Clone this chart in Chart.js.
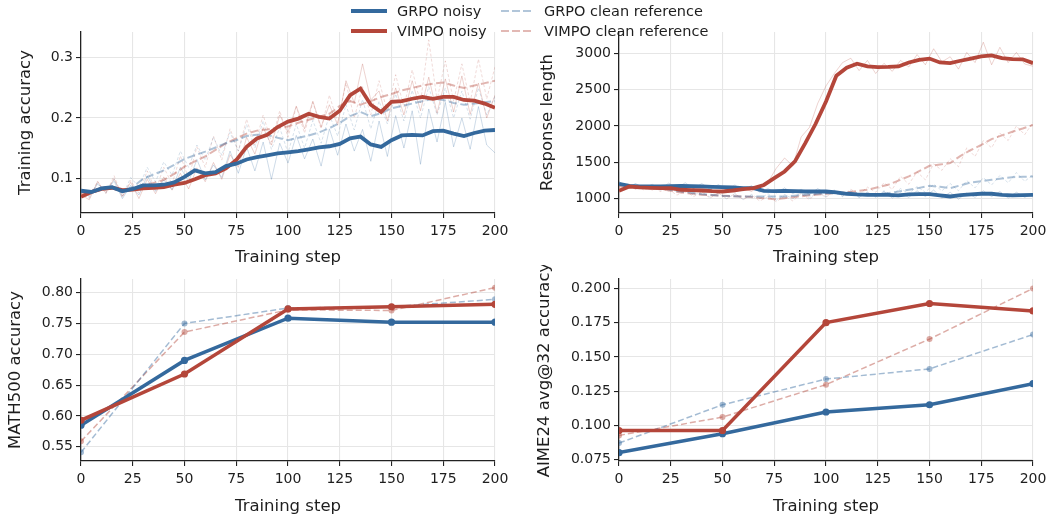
<!DOCTYPE html>
<html>
<head>
<meta charset="utf-8">
<script src="https://cdn.jsdelivr.net/npm/chart.js@4.4.1/dist/chart.umd.min.js"></script>
<style>
body { margin: 0; width: 1050px; height: 520px; background: #fff; position: relative; overflow: hidden; font-family: "DejaVu Sans", sans-serif; }
canvas { position: absolute; }
.leg { position: absolute; font-size: 14.5px; color: #1e1e1e; line-height: 18px; white-space: nowrap; z-index: 5; }
.swatch { position: absolute; z-index: 5; }
</style>
</head>
<body>
<div class="swatch" style="left:351px;top:9px;width:36px;height:4px;background:#34699d"></div>
<div class="leg" style="left:397px;top:2px">GRPO noisy</div>
<div class="swatch" style="left:351px;top:29px;width:36px;height:4px;background:#b4463a"></div>
<div class="leg" style="left:397px;top:22px">VIMPO noisy</div>
<div class="swatch" style="left:501px;top:10px;width:33px;height:2px;background:repeating-linear-gradient(to right,rgba(52,105,157,0.38) 0 8px,transparent 8px 11px)"></div>
<div class="leg" style="left:544px;top:2px">GRPO clean reference</div>
<div class="swatch" style="left:501px;top:30px;width:33px;height:2px;background:repeating-linear-gradient(to right,rgba(180,70,58,0.38) 0 8px,transparent 8px 11px)"></div>
<div class="leg" style="left:544px;top:22px">VIMPO clean reference</div>

<canvas id="acc"></canvas>
<canvas id="len"></canvas>
<canvas id="math"></canvas>
<canvas id="aime"></canvas>

<script>
// training curves: smoothed every 5 steps, raw every 4 steps
const steps5 = [0,5,10,15,20,25,30,35,40,45,50,55,60,65,70,75,80,85,90,95,100,105,110,115,120,125,130,135,140,145,150,155,160,165,170,175,180,185,190,195,200]
const steps4 = [0,4,8,12,16,20,24,28,32,36,40,44,48,52,56,60,64,68,72,76,80,84,88,92,96,100,104,108,112,116,120,124,128,132,136,140,144,148,152,156,160,164,168,172,176,180,184,188,192,196,200]
const evalSteps = [0,50,100,150,200]
const xTicks = [0,25,50,75,100,125,150,175,200]

const accGrpoNoisy = [0.079,0.077,0.083,0.085,0.078,0.082,0.088,0.088,0.089,0.093,0.102,0.113,0.108,0.110,0.120,0.124,0.131,0.135,0.138,0.141,0.143,0.145,0.148,0.151,0.153,0.157,0.166,0.169,0.156,0.152,0.163,0.171,0.172,0.171,0.178,0.179,0.174,0.170,0.175,0.179,0.180]
const accVimpoNoisy = [0.069,0.077,0.082,0.084,0.080,0.081,0.083,0.084,0.085,0.089,0.092,0.098,0.105,0.108,0.116,0.130,0.152,0.166,0.172,0.185,0.194,0.199,0.207,0.202,0.199,0.212,0.238,0.249,0.222,0.210,0.227,0.228,0.232,0.235,0.232,0.235,0.235,0.230,0.229,0.224,0.217]
const accGrpoClean = [0.077,0.079,0.082,0.083,0.080,0.085,0.099,0.106,0.113,0.122,0.132,0.138,0.144,0.151,0.158,0.163,0.170,0.172,0.172,0.167,0.163,0.167,0.171,0.176,0.183,0.192,0.203,0.210,0.203,0.208,0.216,0.220,0.224,0.228,0.232,0.230,0.225,0.222,0.224,0.226,0.228]
const accVimpoClean = [0.074,0.078,0.082,0.083,0.080,0.083,0.088,0.092,0.097,0.107,0.119,0.128,0.136,0.147,0.158,0.166,0.174,0.179,0.181,0.184,0.186,0.192,0.197,0.202,0.207,0.220,0.228,0.222,0.228,0.235,0.240,0.246,0.250,0.254,0.257,0.259,0.254,0.250,0.254,0.258,0.262]

const accGrpoNoisyRaw = [0.082,0.070,0.090,0.079,0.095,0.066,0.088,0.072,0.104,0.078,0.097,0.081,0.118,0.094,0.131,0.097,0.122,0.101,0.145,0.108,0.152,0.112,0.160,0.098,0.158,0.125,0.171,0.132,0.165,0.120,0.182,0.138,0.190,0.145,0.181,0.128,0.195,0.136,0.204,0.150,0.212,0.123,0.215,0.160,0.226,0.152,0.200,0.148,0.219,0.155,0.142]
const accGrpoCleanRaw = [0.080,0.068,0.092,0.075,0.098,0.070,0.101,0.085,0.118,0.094,0.127,0.105,0.145,0.118,0.155,0.130,0.168,0.138,0.176,0.145,0.189,0.150,0.195,0.148,0.184,0.142,0.190,0.150,0.196,0.158,0.205,0.170,0.222,0.180,0.231,0.182,0.228,0.190,0.240,0.195,0.246,0.200,0.252,0.205,0.250,0.200,0.245,0.198,0.250,0.205,0.236]
const accVimpoNoisyRaw = [0.072,0.064,0.094,0.076,0.099,0.070,0.093,0.066,0.098,0.074,0.102,0.080,0.108,0.082,0.117,0.094,0.126,0.098,0.139,0.118,0.168,0.140,0.184,0.155,0.205,0.176,0.220,0.182,0.228,0.185,0.222,0.188,0.262,0.225,0.290,0.230,0.245,0.195,0.250,0.205,0.262,0.212,0.268,0.208,0.265,0.210,0.270,0.206,0.258,0.200,0.238]
const accVimpoCleanRaw = [0.078,0.066,0.095,0.074,0.104,0.068,0.096,0.075,0.112,0.080,0.118,0.090,0.137,0.100,0.152,0.118,0.170,0.130,0.182,0.145,0.198,0.155,0.205,0.160,0.212,0.168,0.218,0.175,0.226,0.182,0.238,0.192,0.258,0.200,0.252,0.205,0.262,0.210,0.272,0.218,0.280,0.225,0.330,0.230,0.295,0.228,0.290,0.226,0.298,0.232,0.285]

const lenGrpoNoisy = [1206,1178,1169,1169,1169,1172,1178,1172,1169,1165,1160,1155,1146,1146,1110,1105,1110,1105,1100,1100,1100,1087,1069,1060,1055,1055,1055,1046,1060,1064,1064,1048,1032,1050,1060,1069,1069,1055,1046,1050,1055]
const lenVimpoNoisy = [1110,1169,1156,1150,1146,1146,1124,1118,1114,1105,1100,1114,1133,1146,1190,1284,1375,1513,1764,2030,2336,2690,2800,2854,2817,2808,2810,2817,2872,2908,2925,2872,2863,2895,2925,2954,2970,2931,2918,2915,2863]
const lenGrpoClean = [1192,1180,1169,1158,1146,1123,1100,1082,1064,1052,1041,1036,1032,1032,1032,1032,1032,1043,1055,1066,1078,1073,1069,1062,1055,1065,1078,1100,1124,1150,1178,1165,1146,1185,1224,1242,1260,1278,1297,1302,1307]
const lenVimpoClean = [1169,1165,1160,1146,1133,1110,1087,1071,1055,1048,1041,1036,1032,1020,1009,995,1009,1025,1041,1055,1069,1078,1087,1105,1124,1158,1192,1250,1307,1380,1453,1470,1490,1590,1670,1740,1820,1870,1920,1965,2014]

const lenGrpoNoisyRaw = [1240,1150,1210,1140,1200,1130,1215,1150,1220,1140,1210,1130,1195,1120,1190,1110,1180,1090,1140,1080,1150,1070,1130,1060,1140,1070,1120,1040,1110,1020,1090,1030,1100,1010,1080,1020,1110,1030,1120,1010,1090,995,1080,1020,1110,1030,1100,1010,1090,1020,1070]
const lenGrpoCleanRaw = [1210,1150,1200,1140,1180,1120,1160,1090,1130,1050,1100,1020,1080,1000,1070,990,1060,1000,1070,980,1060,1000,1090,1010,1100,1030,1110,1030,1100,1020,1090,1020,1110,1050,1140,1070,1170,1090,1200,1110,1210,1110,1250,1150,1290,1190,1320,1220,1360,1240,1330]
const lenVimpoNoisyRaw = [1090,1200,1130,1180,1120,1170,1110,1160,1090,1140,1080,1120,1070,1130,1090,1150,1100,1180,1230,1420,1560,1450,1850,1980,2310,2550,2720,2870,2930,2760,2900,2720,2860,2750,2900,2810,2980,2840,3060,2880,2950,2780,3010,2870,3150,2840,3080,2870,3010,2850,2820]
const lenVimpoCleanRaw = [1180,1130,1190,1120,1170,1100,1130,1050,1110,1030,1090,1010,1080,1000,1070,990,1050,970,1030,960,1040,970,1070,990,1090,1020,1110,1040,1130,1060,1160,1090,1220,1130,1310,1200,1370,1260,1480,1390,1550,1440,1700,1580,1800,1700,1900,1800,2000,1880,2050]

// evaluation every 50 steps
const mathGrpoNoisy = [0.585,0.690,0.7585,0.752,0.752]
const mathVimpoNoisy = [0.593,0.668,0.7735,0.777,0.781]
const mathGrpoClean = [0.541,0.750,0.775,0.777,0.789]
const mathVimpoClean = [0.559,0.736,0.772,0.771,0.808]

const aimeGrpoNoisy = [0.080,0.0938,0.1097,0.115,0.1304]
const aimeVimpoNoisy = [0.0962,0.0962,0.175,0.189,0.1836]
const aimeGrpoClean = [0.087,0.115,0.1338,0.1412,0.1663]
const aimeVimpoClean = [0.0926,0.106,0.1297,0.163,0.200]

const BLUE = 'rgb(52,105,157)'
const RED = 'rgb(180,70,58)'
const fade = (c, a) => c.replace('rgb', 'rgba').replace(')', ',' + a + ')')
const xy = (xs, ys) => xs.map((x, i) => ({ x, y: ys[i] }))

const rawLine = (steps, values, color, dashed) => ({
    data: xy(steps, values),
    borderColor: fade(color, dashed ? 0.2 : 0.24),
    borderWidth: 1,
    borderDash: dashed ? [3, 2] : [],
    pointRadius: 0
})
const smoothLine = (steps, values, color, dashed) => ({
    data: xy(steps, values),
    borderColor: dashed ? fade(color, 0.4) : color,
    borderWidth: dashed ? 2 : 3.8,
    borderDash: dashed ? [8, 3.5] : [],
    pointRadius: 0
})
const evalLine = (values, color, dashed) => ({
    data: xy(evalSteps, values),
    borderColor: dashed ? fade(color, 0.45) : color,
    backgroundColor: dashed ? fade(color, 0.45) : color,
    borderWidth: dashed ? 1.5 : 3.5,
    borderDash: dashed ? [6, 3] : [],
    pointRadius: dashed ? 3 : 3.6,
    pointBorderWidth: 0
})

const makePanel = (id, box, yAxis, datasets) => {
    const canvas = document.getElementById(id)
    canvas.width = box.w
    canvas.height = box.h
    canvas.style.left = box.left + 'px'
    canvas.style.top = box.top + 'px'
    const tickFont = { family: 'DejaVu Sans', size: 14 }
    const titleFont = { family: 'DejaVu Sans', size: 16.5 }
    const grid = { color: '#e6e6e6', lineWidth: 1.1, tickColor: '#222', tickLength: 5, tickWidth: 1.1 }
    const border = { color: '#222', width: 1.3 }
    return new Chart(canvas.getContext('2d'), {
        type: 'line',
        data: { datasets },
        options: {
            responsive: false,
            animation: false,
            layout: { padding: { top: box.padTop, right: box.padRight, left: 0, bottom: 0 } },
            plugins: { legend: { display: false }, tooltip: { enabled: false } },
            elements: { line: { tension: 0 } },
            scales: {
                x: {
                    type: 'linear', min: 0, max: 200,
                    afterBuildTicks: (s) => { s.ticks = xTicks.map(v => ({ value: v })) },
                    afterFit: (s) => { s.height = box.xh },
                    ticks: { font: tickFont, color: '#1e1e1e', padding: 5, maxRotation: 0 },
                    grid, border,
                    title: { display: true, text: 'Training step', font: titleFont, color: '#1e1e1e', padding: 0 }
                },
                y: {
                    type: 'linear', min: yAxis.min, max: yAxis.max,
                    afterBuildTicks: (s) => { s.ticks = yAxis.ticks.map(v => ({ value: v })) },
                    afterFit: (s) => { s.width = box.yw },
                    ticks: { font: tickFont, color: '#1e1e1e', padding: 3, callback: (v) => v.toFixed(yAxis.digits) },
                    grid, border,
                    title: { display: true, text: yAxis.title, font: titleFont, color: '#1e1e1e', padding: 0 }
                }
            }
        }
    })
}

makePanel('acc', { left: 16, top: 18, w: 499, h: 250, yw: 65, xh: 55, padTop: 14, padRight: 20 },
    { min: 0.042, max: 0.343, ticks: [0.1, 0.2, 0.3], digits: 1, title: 'Training accuracy' },
    [
        smoothLine(steps5, accGrpoNoisy, BLUE, false),
        smoothLine(steps5, accVimpoNoisy, RED, false),
        smoothLine(steps5, accGrpoClean, BLUE, true),
        smoothLine(steps5, accVimpoClean, RED, true),
        rawLine(steps4, accGrpoNoisyRaw, BLUE, false),
        rawLine(steps4, accVimpoNoisyRaw, RED, false),
        rawLine(steps4, accGrpoCleanRaw, BLUE, true),
        rawLine(steps4, accVimpoCleanRaw, RED, true)
    ])

makePanel('len', { left: 538, top: 18, w: 515, h: 250, yw: 81, xh: 55, padTop: 14, padRight: 20 },
    { min: 805, max: 3290, ticks: [1000, 1500, 2000, 2500, 3000], digits: 0, title: 'Response length' },
    [
        smoothLine(steps5, lenVimpoNoisy, RED, false),
        smoothLine(steps5, lenGrpoNoisy, BLUE, false),
        smoothLine(steps5, lenGrpoClean, BLUE, true),
        smoothLine(steps5, lenVimpoClean, RED, true),
        rawLine(steps4, lenGrpoNoisyRaw, BLUE, false),
        rawLine(steps4, lenVimpoNoisyRaw, RED, false),
        rawLine(steps4, lenGrpoCleanRaw, BLUE, true),
        rawLine(steps4, lenVimpoCleanRaw, RED, true)
    ])

makePanel('math', { left: 6, top: 265, w: 509, h: 252, yw: 75, xh: 56, padTop: 14, padRight: 20 },
    { min: 0.527, max: 0.822, ticks: [0.55, 0.60, 0.65, 0.70, 0.75, 0.80], digits: 2, title: 'MATH500 accuracy' },
    [
        evalLine(mathVimpoNoisy, RED, false),
        evalLine(mathGrpoNoisy, BLUE, false),
        evalLine(mathGrpoClean, BLUE, true),
        evalLine(mathVimpoClean, RED, true)
    ])

makePanel('aime', { left: 535, top: 265, w: 518, h: 252, yw: 84, xh: 56, padTop: 14, padRight: 20 },
    { min: 0.0739, max: 0.2069, ticks: [0.075, 0.100, 0.125, 0.150, 0.175, 0.200], digits: 3, title: 'AIME24 avg@32 accuracy' },
    [
        evalLine(aimeVimpoNoisy, RED, false),
        evalLine(aimeGrpoNoisy, BLUE, false),
        evalLine(aimeGrpoClean, BLUE, true),
        evalLine(aimeVimpoClean, RED, true)
    ])
</script>
</body>
</html>
